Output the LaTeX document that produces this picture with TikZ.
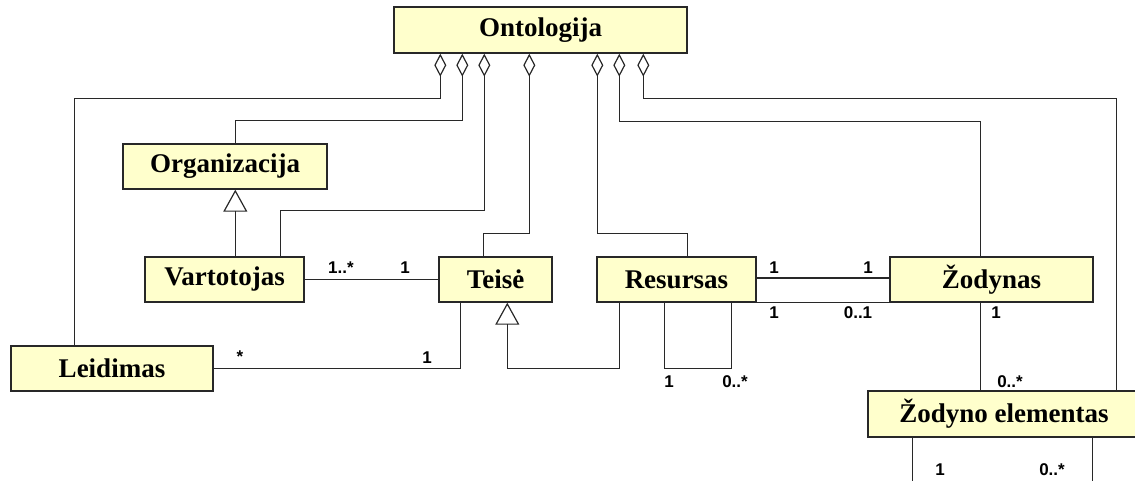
\documentclass[tikz,border=0pt]{standalone}
\usepackage{fontspec}
\setmainfont{Liberation Serif}
\newfontfamily\labelfont{Liberation Sans}
\usetikzlibrary{arrows.meta}
\definecolor{classfill}{RGB}{255,255,204}
\definecolor{inkgray}{RGB}{40,40,40}
\begin{document}
\begin{tikzpicture}[x=1pt,y=-1pt,
  cls/.style={draw=inkgray, line width=1.4pt, fill=classfill, inner sep=0pt,
    font=\fontsize{27}{30}\selectfont\bfseries, minimum height=45pt},
  link/.style={draw=inkgray, line width=1.2pt},
  agg/.style={link, {Diamond[open,length=23pt,width=12pt]}-},
  gen/.style={link, {Triangle[open,length=22pt,width=24pt]}-},
  mult/.style={font=\labelfont\fontsize{17}{19}\selectfont\bfseries, inner sep=0pt}
]
\useasboundingbox (0,0) rectangle (1135,480);
\clip (0,0) rectangle (1135,480);

% classes
\node[cls, minimum width=293pt, minimum height=46pt] (onto) at (540.5,30) {Ontologija};
\node[cls, minimum width=204pt] (org)   at (225,166.5)   {Organizacija};
\node[cls, minimum width=159pt] (vart)  at (224.5,279.5) {Vartotojas};
\node[cls, minimum width=113pt] (teise) at (495.5,279.5) {Teisė};
\node[cls, minimum width=159pt] (res)   at (676.5,279.5) {Resursas};
\node[cls, minimum width=203pt] (zod)   at (991.5,279.5) {Žodynas};
\node[cls, minimum width=202pt] (leid)  at (112,368.5)   {Leidimas};
\node[cls, minimum width=272pt, minimum height=46pt] (zel) at (1004,414) {Žodyno elementas};

% aggregations from Ontologija
\draw[agg] ([xshift=47pt]onto.south west)  -- ++(0,45)  -| ([xshift=64pt]leid.north west);
\draw[agg] ([xshift=69pt]onto.south west)  -- ++(0,67)  -| ([xshift=113pt]org.north west);
\draw[agg] ([xshift=91pt]onto.south west)  -- ++(0,157) -| ([xshift=136pt]vart.north west);
\draw[agg] ([xshift=136pt]onto.south west) -- ++(0,180) -| ([xshift=45pt]teise.north west);
\draw[agg] ([xshift=204pt]onto.south west) -- ++(0,180) -| ([xshift=91pt]res.north west);
\draw[agg] ([xshift=226pt]onto.south west) -- ++(0,68)  -| ([xshift=91pt]zod.north west);
\draw[agg] ([xshift=250pt]onto.south west) -- ++(0,45)  -| ([xshift=249pt]zel.north west);

% generalizations
\draw[gen] ([xshift=113pt]org.south west) -- ([xshift=91pt]vart.north west);
\draw[gen] ([xshift=69pt]teise.south west) -- ++(0,66) -| ([xshift=23pt]res.south west);

% associations
\draw[link] (vart.east) -- (teise.west);
\draw[link] (leid.east) -| ([xshift=22pt]teise.south west);
\draw[link] ([xshift=68pt]res.south west) -- ++(0,66) -| ([xshift=135pt]res.south west);
\draw[link] ([yshift=1.5pt]res.east) -- ([yshift=1.5pt]zod.west);
\draw[link] (res.south east) -- (zod.south west);
\draw[link] ([xshift=91pt]zod.south west) -- ([xshift=113pt]zel.north west);
\draw[link] ([xshift=45pt]zel.south west) -- ++(0,50);
\draw[link] ([xshift=225pt]zel.south west) -- ++(0,50);

% multiplicities
\node[mult] (m1)  at (341,268) {1..*};
\node[mult] (m2)  at (405,268) {1};
\node[mult] (m3)  at (240,357) {*};
\node[mult] (m4)  at (427,358) {1};
\node[mult] (m5)  at (669,382) {1};
\node[mult] (m6)  at (735,382) {0..*};
\node[mult] (m7)  at (774,268) {1};
\node[mult] (m8)  at (868,268) {1};
\node[mult] (m9)  at (774,313) {1};
\node[mult] (m10) at (858,313) {0..1};
\node[mult] (m11) at (996,313) {1};
\node[mult] (m12) at (1010,382) {0..*};
\node[mult] (m13) at (940,470) {1};
\node[mult] (m14) at (1052,470) {0..*};
\end{tikzpicture}
\end{document}
